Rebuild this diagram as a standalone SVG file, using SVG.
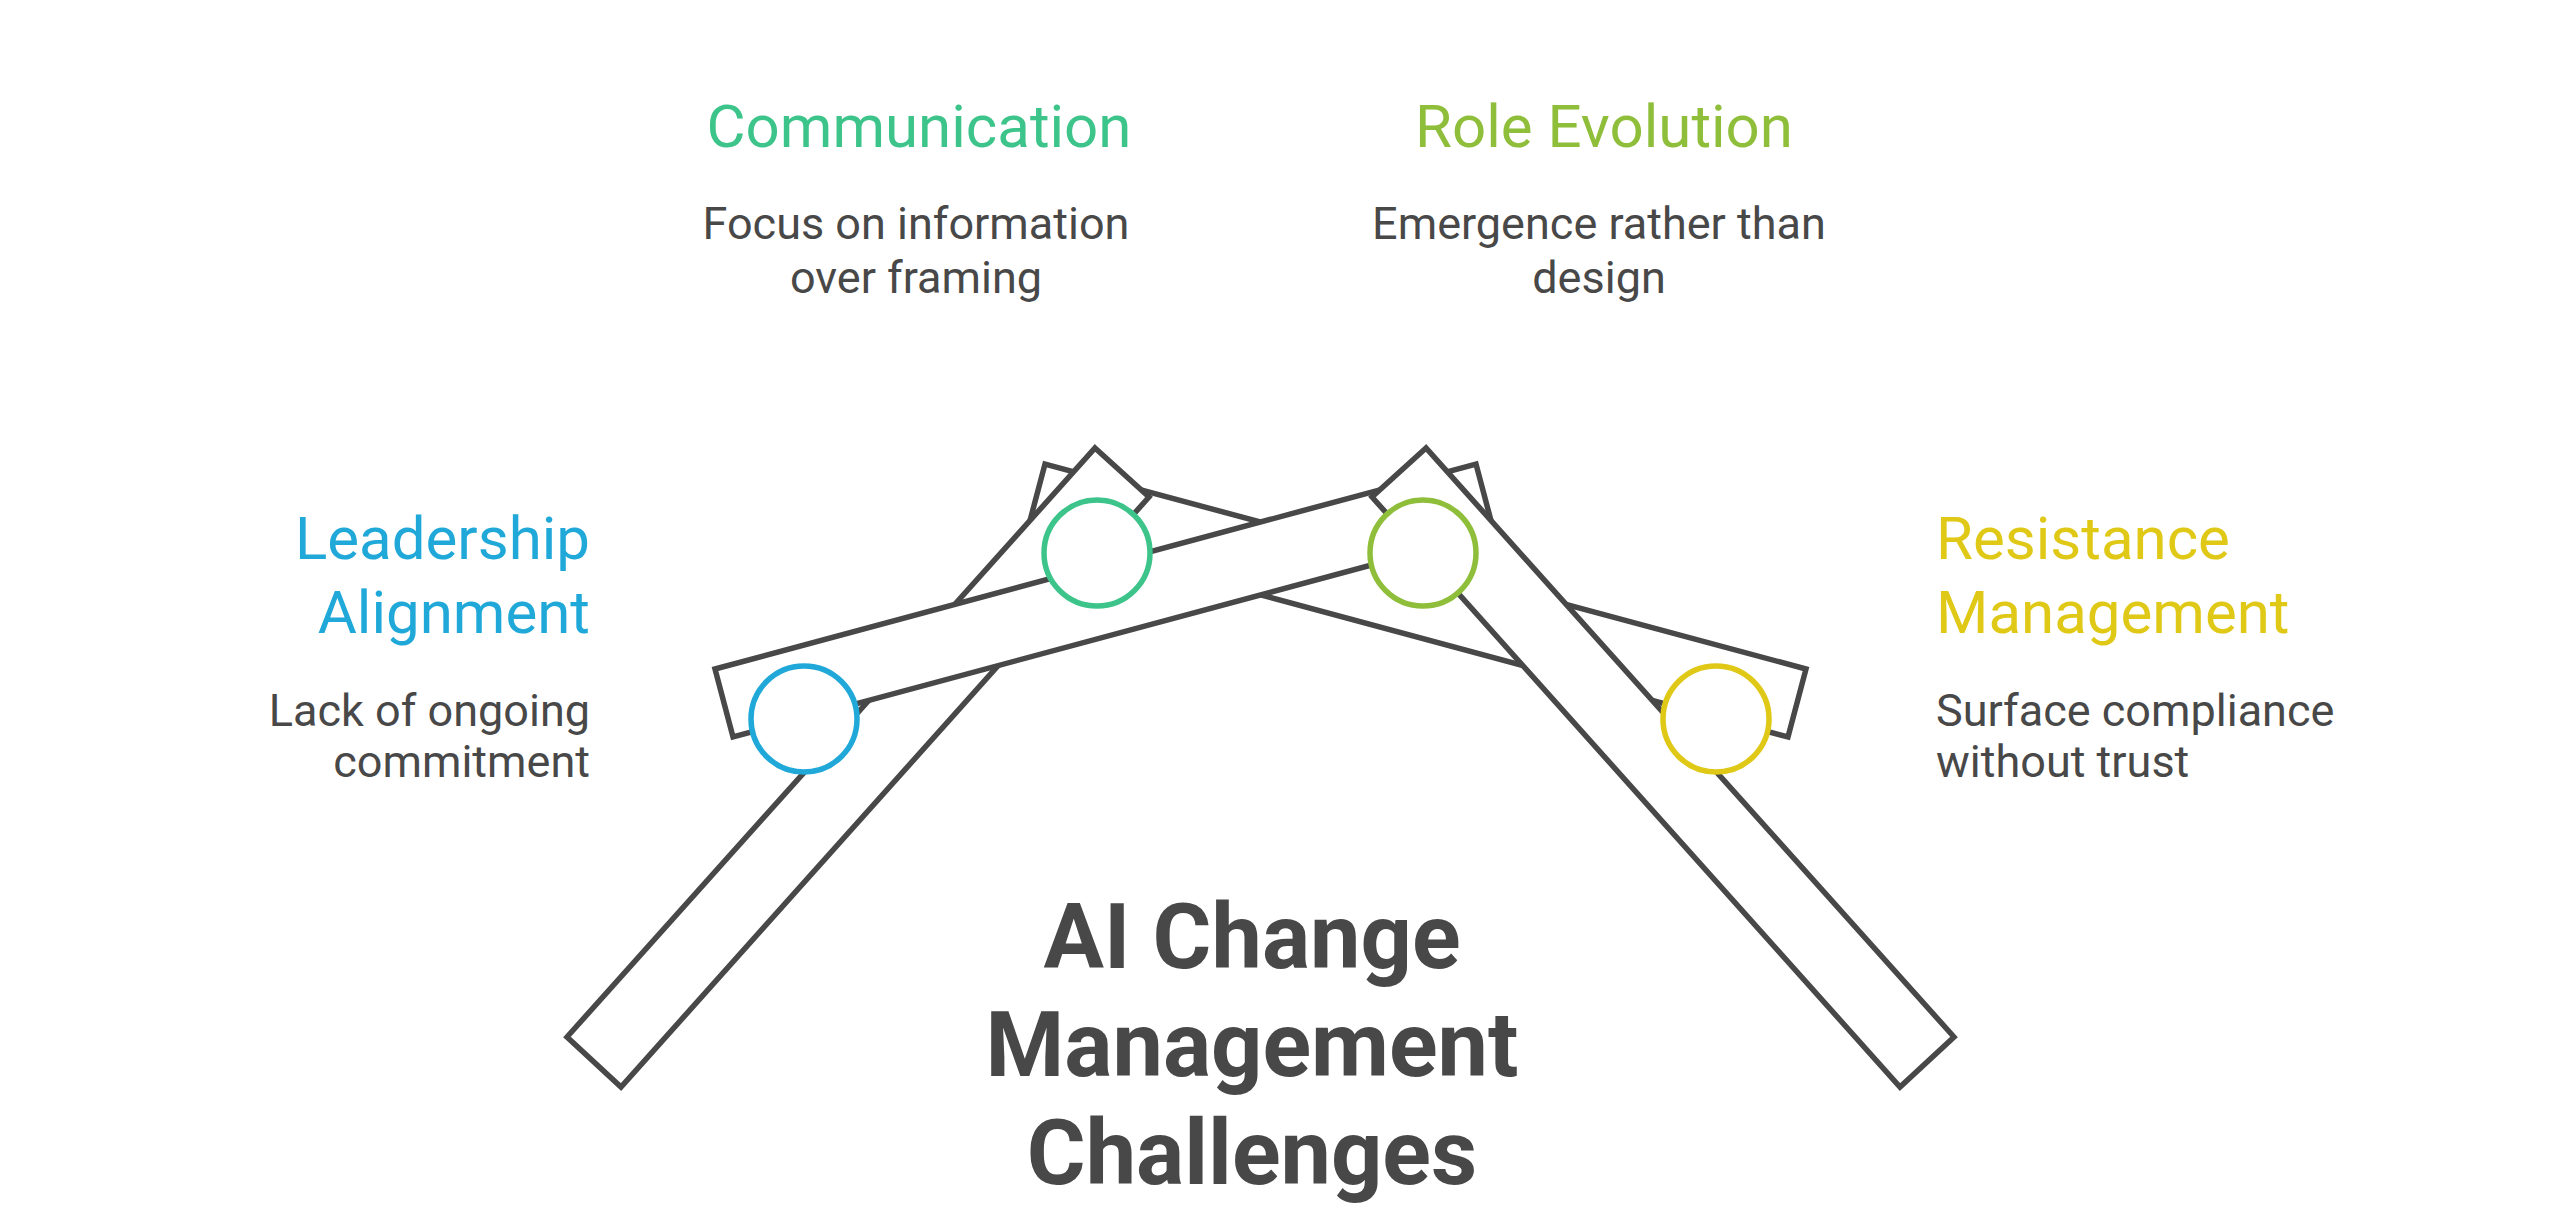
<svg xmlns="http://www.w3.org/2000/svg" width="2564" height="1214" viewBox="0 0 2564 1214">
<style>
.bar{fill:#fff;stroke:#484848;stroke-width:5.5;stroke-linejoin:miter}
.c{fill:#fff;stroke-width:5.5}
.h{font-family:Roboto,"Liberation Sans",sans-serif;font-size:60px}
.d{font-family:Roboto,"Liberation Sans",sans-serif;font-size:45px;fill:#484848}
.t{font-family:Roboto,"Liberation Sans",sans-serif;font-size:90px;font-weight:bold;fill:#484848;text-anchor:middle}
</style>
<rect width="2564" height="1214" fill="#fff"/>
<g id="connectors">
<polygon class="bar" points="1806,669 1045,464 1027,532 1788,737"/>
<polygon class="bar" points="1095,448 1149,497 621,1087 567,1037"/>
<polygon class="bar" points="715,669 1476,464 1494,532 733,737"/>
<polygon class="bar" points="1426,448 1372,497 1900,1087 1954,1037"/>
</g>
<g id="leadership">
<circle class="c" cx="804" cy="719" r="53" stroke="#1FA8D8"/>
<text class="h" x="590" y="559" text-anchor="end" fill="#1FA8D8">Leadership</text>
<text class="h" x="590" y="633" text-anchor="end" fill="#1FA8D8">Alignment</text>
<text class="d" x="590" y="726" text-anchor="end">Lack of ongoing</text>
<text class="d" x="590" y="777" text-anchor="end">commitment</text>
</g>
<g id="communication">
<circle class="c" cx="1097" cy="553" r="53" stroke="#3CC48A"/>
<text class="h" x="919" y="147" text-anchor="middle" fill="#3CC48A">Communication</text>
<text class="d" x="916" y="239" text-anchor="middle">Focus on information</text>
<text class="d" x="916" y="293" text-anchor="middle">over framing</text>
</g>
<g id="role">
<circle class="c" cx="1423" cy="553" r="53" stroke="#8FBE3B"/>
<text class="h" x="1604" y="147" text-anchor="middle" fill="#8FBE3B">Role Evolution</text>
<text class="d" x="1599" y="239" text-anchor="middle">Emergence rather than</text>
<text class="d" x="1599" y="293" text-anchor="middle">design</text>
</g>
<g id="resistance">
<circle class="c" cx="1716" cy="719" r="53" stroke="#E0C816"/>
<text class="h" x="1936" y="559" fill="#E0C816">Resistance</text>
<text class="h" x="1936" y="633" fill="#E0C816">Management</text>
<text class="d" x="1936" y="726">Surface compliance</text>
<text class="d" x="1936" y="777">without trust</text>
</g>
<g id="title">
<text class="t" x="1252" y="968">AI Change</text>
<text class="t" x="1252" y="1076">Management</text>
<text class="t" x="1252" y="1184">Challenges</text>
</g>
</svg>
